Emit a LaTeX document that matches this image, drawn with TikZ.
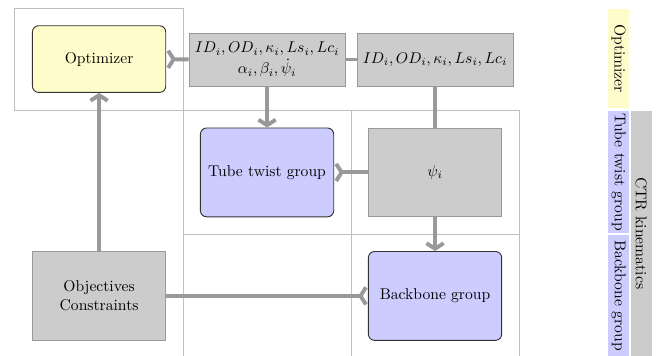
\documentclass[tikz,border=0pt]{standalone}
\usetikzlibrary{arrows.meta}
\begin{document}
\begin{tikzpicture}[thick,
        >={Straight Barb[length=3.5pt,width=11pt]},
        blocco/.style={draw=black!80, line width=0.6pt, rounded corners=4pt, minimum width=3cm, minimum height=2cm, align=center},
        dati/.style={draw=gray!80, line width=0.5pt, fill=gray!40, minimum width=3cm, minimum height=2cm, align=center},
        legame/.style={draw=gray!80, line width=2.5pt},
        cella/.style={draw=gray!50, line width=0.5pt},
        fascia/.style={rotate=-90, inner sep=0pt, minimum height=0.47cm}]
        \useasboundingbox (0,0) rectangle (14.83,-8.01);

        % Griglia delle celle
        \draw[cella] (0.32,-0.18) rectangle (4.12,-2.48);
        \draw[cella] (4.12,-2.48) -- (11.68,-2.48);
        \draw[cella] (4.12,-5.27) -- (11.68,-5.27);
        \draw[cella] (4.12,-2.48) -- (4.12,-8.01);
        \draw[cella] (7.90,-2.48) -- (7.90,-8.01);
        \draw[cella] (11.68,-2.48) -- (11.68,-8.01);

        % Blocchi sulla diagonale
        \node[blocco, fill=yellow!20, minimum height=1.5cm] (ott) at (2.23,-1.33) {Optimizer};
        \node[blocco, fill=blue!20] (torsione) at (6.01,-3.88) {Tube twist group};
        \node[blocco, fill=blue!20] (dorsale) at (9.79,-6.66) {Backbone group};

        % Variabili scambiate
        \node[dati, minimum width=3.51cm, minimum height=1.19cm] (par) at (6.01,-1.34)
            {$ID_i, OD_i, \kappa_i, Ls_i, Lc_i$\\[1.5pt]$\alpha_i, \beta_i, \dot{\psi}_i$};
        \node[dati, minimum width=3.51cm, minimum height=1.19cm] (geo) at (9.79,-1.34)
            {$ID_i, OD_i, \kappa_i, Ls_i, Lc_i$};
        \node[dati] (psi) at (9.79,-3.88) {$\psi_i$};
        \node[dati] (obiettivi) at (2.23,-6.66) {Objectives\\Constraints};

        % Collegamenti
        \draw[legame, -<] (par) -- (ott);
        \draw[legame] (par) -- (geo);
        \draw[legame, ->] (par) -- (torsione);
        \draw[legame] (geo) -- (psi);
        \draw[legame, -<] (psi) -- (torsione);
        \draw[legame, ->] (psi) -- (dorsale);
        \draw[legame, -<] (obiettivi) -- (dorsale);
        \draw[legame, ->] (obiettivi) -- (ott);

        % Legenda a destra
        \node[fascia, fill=yellow!20, minimum width=2.23cm] (l-ott) at (13.92,-1.32) {Optimizer};
        \node[fascia, fill=blue!20, minimum width=2.75cm] (l-tor) at (13.92,-3.87) {Tube twist group};
        \node[fascia, fill=blue!20, minimum width=2.72cm] (l-dor) at (13.92,-6.65) {Backbone group};
        \node[fascia, fill=gray!40, minimum width=5.51cm] (l-ctr) at (14.43,-5.25) {CTR kinematics};
    \end{tikzpicture}
\end{document}
